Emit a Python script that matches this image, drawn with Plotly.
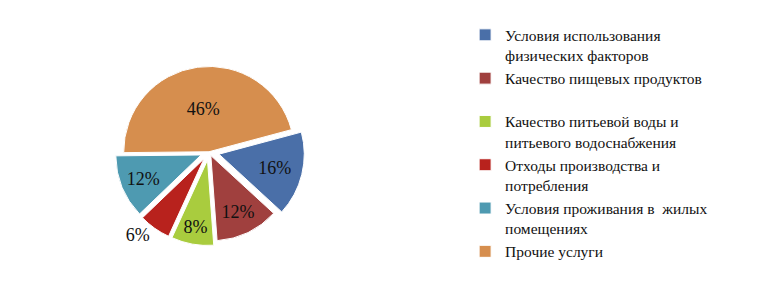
import plotly.graph_objects as go

categories = [
    "Условия использования<br>физических факторов",
    "Качество пищевых продуктов<br> ",
    "Качество питьевой воды и<br>питьевого водоснабжения",
    "Отходы производства и<br>потребления",
    "Условия проживания в  жилых<br>помещениях",
    "Прочие услуги",
]
values = [16, 12, 8, 6, 12, 46]
colors = ["#4A6FA8", "#A0403E", "#A9CC3E", "#B8221D", "#4E9AB1", "#D68E4E"]
pulls = [0.12, 0.05, 0.1, 0.1, 0.1, 0.0]
textpos = ["inside", "inside", "inside", "outside", "inside", "inside"]

serif = "Liberation Serif, Times New Roman, serif"

fig = go.Figure(go.Pie(
    labels=categories,
    values=values,
    sort=False,
    direction="clockwise",
    rotation=75,
    pull=pulls,
    marker=dict(colors=colors, line=dict(color="white", width=1)),
    textinfo="percent",
    texttemplate="%{percent:.0%}",
    textposition=textpos,
    insidetextorientation="horizontal",
    textfont=dict(family=serif, size=18, color="#111111"),
    domain=dict(x=[0.10, 0.45], y=[0.12, 0.80]),
    showlegend=True,
))

fig.update_layout(
    width=760, height=281,
    margin=dict(l=0, r=0, t=0, b=0),
    paper_bgcolor="white",
    plot_bgcolor="white",
    font=dict(family=serif, size=15, color="#111111"),
    legend=dict(
        x=0.612, y=0.935, xanchor="left", yanchor="top",
        valign="top",
        font=dict(family=serif, size=15.5, color="#111111"),
        itemwidth=30,
        tracegroupgap=0,
    ),
)

fig.write_html("out.html")
